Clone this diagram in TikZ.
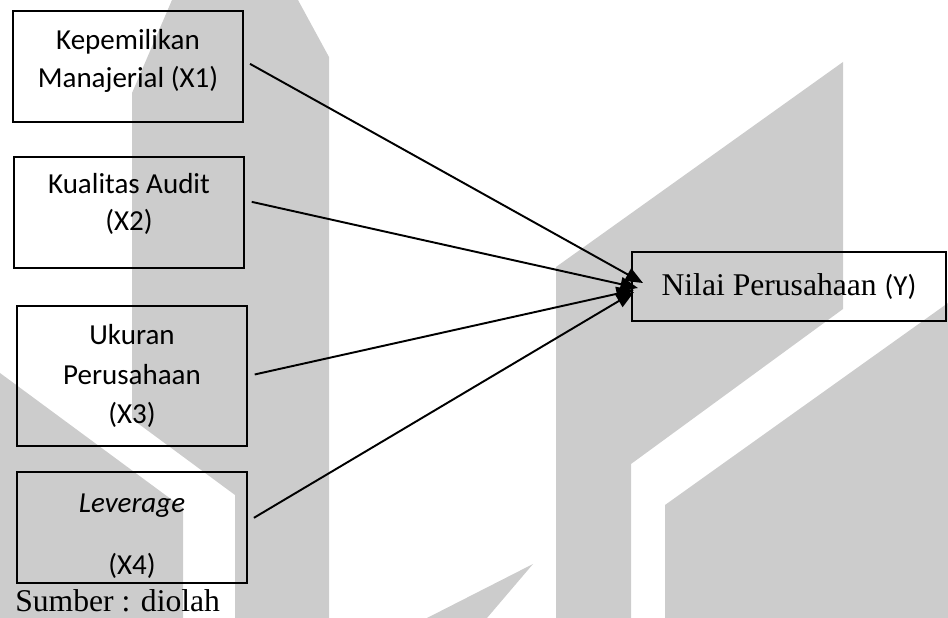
\documentclass[tikz,border=0pt]{standalone}
\usepackage{fontspec}
\setmainfont{Liberation Serif}
\newfontfamily\calibri{Carlito}
\usetikzlibrary{arrows.meta,calc,positioning}
\definecolor{wmgray}{HTML}{CCCCCC}

\begin{document}
\begin{tikzpicture}[x=0.02cm,y=-0.02cm,>={Triangle[length=10pt,width=8pt]},
  wm/.style={fill=wmgray,draw=none},
  varbox/.style={draw,line width=1pt,minimum width=4.6cm,minimum height=2.22cm,
    align=center,inner sep=0pt,font=\calibri\fontsize{16.5}{21.5}\selectfont},
  link/.style={->,line width=1.1pt,shorten <=4pt}]
\useasboundingbox (0,0) rectangle (948,618);
\fill[wm] (132,93)--(172,0)--(298,0)--(329,57)--(329,618)--(235,618)--(235,495)--(132,419)--cycle;
\fill[wm] (0,373)--(183,508)--(183,618)--(0,618)--cycle;
\fill[wm] (556,618)--(556,267)--(843,62)--(843,309)--(631,464)--(631,618)--cycle;
\fill[wm] (665,618)--(665,505)--(948,303)--(948,618)--cycle;
\fill[wm] (427,618)--(533,564)--(487,618)--cycle;
\node[varbox] (x1) at (128,66.5) {Kepemilikan\\Manajerial (X1)\rule[-9pt]{0pt}{9pt}};
\node[varbox] (x2) at (129,212.5) {Kualitas Audit\\(X2)\rule[-12pt]{0pt}{12pt}};
\node[varbox,minimum height=2.8cm,font=\calibri\fontsize{16.5}{22.7}\selectfont] (x3) at (132,376)
  {Ukuran\\Perusahaan\\(X3)};
\node[varbox] (x4) at (132,527.5) {\rule{0pt}{20.5pt}\textit{Leverage}\\[14pt](X4)};
\node[draw,line width=1pt,minimum width=6.28cm,minimum height=1.38cm,inner sep=0pt,
  font=\fontsize{18}{22}\selectfont] (y) at (789,286.5)
  {Nilai Perusahaan {\calibri\fontsize{16.5}{20}\selectfont(Y)}};
\node[anchor=base west,inner sep=0pt,font=\fontsize{18}{22}\selectfont] (src) at (15,612) {Sumber : diolah};
\coordinate (t1) at (643,283);
\coordinate (t2) at (638,288);
\coordinate (t3) at (634,290);
\coordinate (t4) at (634,292);
\draw[link] (x1.3) -- (t1);
\draw[link] (x2.6) -- (t2);
\draw[link] (x3.east) -- (t3);
\draw[link] (x4.3) -- (t4);
\end{tikzpicture}
\end{document}
